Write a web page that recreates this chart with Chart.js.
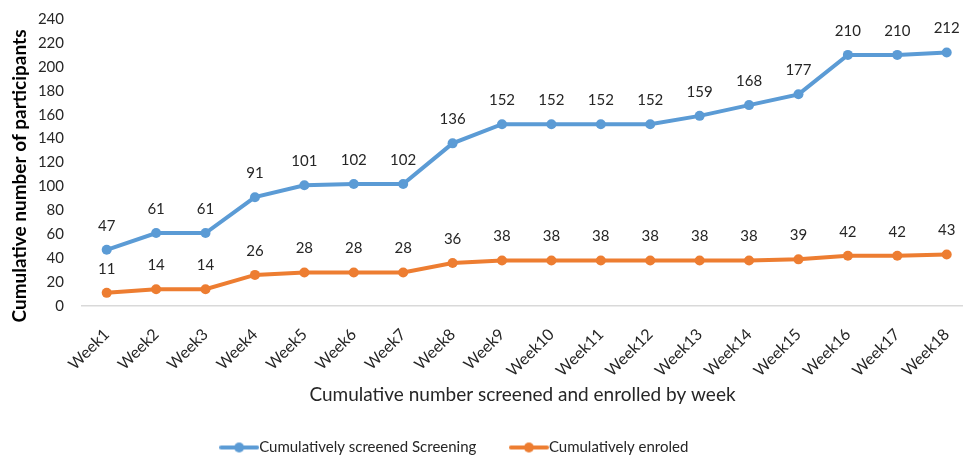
<!DOCTYPE html>
<html>
<head>
<meta charset="utf-8">
<script src="https://cdn.jsdelivr.net/npm/chart.js@4/dist/chart.umd.min.js"></script>
<style>
  html, body { margin: 0; padding: 0; background: #ffffff; }
  #wrap { width: 963px; height: 460px; position: relative; }
</style>
</head>
<body>
<div id="wrap"><canvas id="c" width="963" height="460"></canvas></div>
<script>
const categories = ["Week1","Week2","Week3","Week4","Week5","Week6","Week7","Week8","Week9","Week10","Week11","Week12","Week13","Week14","Week15","Week16","Week17","Week18"];
const screened = [47,61,61,91,101,102,102,136,152,152,152,152,159,168,177,210,210,212];
const enrolled = [11,14,14,26,28,28,28,36,38,38,38,38,38,38,39,42,42,43];
const yTicks = [0,20,40,60,80,100,120,140,160,180,200,220,240];
const seriesNames = ["Cumulatively screened Screening", "Cumulatively enroled"];
const xTitle = "Cumulative number screened and enrolled by week";
const yTitle = "Cumulative number of participants";

const BLUE = "#5b9bd5";
const ORANGE = "#ed7d31";
const TEXT = "#262626";
const FONT = "Lato, 'Open Sans', sans-serif";

function makeIcon(color) {
  const c = document.createElement("canvas");
  c.width = 40; c.height = 12;
  const g = c.getContext("2d");
  g.strokeStyle = color; g.lineWidth = 4; g.lineCap = "round";
  g.beginPath(); g.moveTo(2, 6); g.lineTo(38, 6); g.stroke();
  g.fillStyle = color;
  g.beginPath(); g.arc(20, 6, 5, 0, Math.PI * 2); g.fill();
  return c;
}
const icons = [makeIcon(BLUE), makeIcon(ORANGE)];

const toXY = arr => arr.map((v, i) => ({ x: i + 1, y: v }));

const dataLabels = {
  id: "dataLabels",
  afterDatasetsDraw(chart) {
    const ctx = chart.ctx;
    ctx.save();
    ctx.font = "15px " + FONT;
    ctx.fillStyle = TEXT;
    ctx.textAlign = "center";
    ctx.textBaseline = "middle";
    chart.data.datasets.forEach((ds, di) => {
      const meta = chart.getDatasetMeta(di);
      meta.data.forEach((pt, i) => {
        ctx.fillText(String(ds.data[i].y), pt.x, pt.y - 24);
      });
    });
    ctx.restore();
  }
};

const yTitlePlugin = {
  id: "yTitlePlugin",
  afterDraw(chart) {
    const ctx = chart.ctx;
    ctx.save();
    ctx.translate(20, 176);
    ctx.rotate(-Math.PI / 2);
    ctx.font = "bold 19px " + FONT;
    ctx.fillStyle = "#000000";
    ctx.textAlign = "center";
    ctx.textBaseline = "middle";
    ctx.fillText(yTitle, 0, 0);
    ctx.restore();
  }
};

const legendShift = {
  id: "legendShift",
  afterLayout(chart) {
    if (chart.legend) { chart.legend.left -= 24; chart.legend.right -= 24; }
  }
};

new Chart(document.getElementById("c"), {
  type: "line",
  data: {
    datasets: [
      { label: seriesNames[0], data: toXY(screened), borderColor: BLUE, backgroundColor: BLUE,
        borderWidth: 4, pointRadius: 5, pointHoverRadius: 5, pointBackgroundColor: BLUE, pointBorderWidth: 0, tension: 0 },
      { label: seriesNames[1], data: toXY(enrolled), borderColor: ORANGE, backgroundColor: ORANGE,
        borderWidth: 4, pointRadius: 5, pointHoverRadius: 5, pointBackgroundColor: ORANGE, pointBorderWidth: 0, tension: 0 }
    ]
  },
  options: {
    responsive: false,
    animation: false,
    layout: { autoPadding: false, padding: { left: 0, right: 0, top: 19, bottom: -5 } },
    scales: {
      x: {
        type: "linear",
        min: 0.5,
        max: 18.33,
        afterBuildTicks(scale) { scale.ticks = categories.map((_, i) => ({ value: i + 1 })); },
        afterFit(scale) { scale.height = 94; scale.paddingLeft = 0; scale.paddingRight = 0; },
        ticks: {
          callback: v => categories[v - 1] || "",
          minRotation: 45, maxRotation: 45,
          autoSkip: false,
          padding: 19,
          color: TEXT,
          font: { family: FONT, size: 16 }
        },
        grid: { display: false, drawTicks: false },
        border: { display: true, color: "#d9d9d9", width: 1.5 },
        title: { display: true, text: xTitle, color: TEXT, font: { family: FONT, size: 19 }, padding: { top: 0, bottom: -6 } }
      },
      y: {
        min: 0, max: 240,
        afterBuildTicks(scale) { scale.ticks = yTicks.map(v => ({ value: v })); },
        afterFit(scale) { scale.width = 82; scale.paddingTop = 0; scale.paddingBottom = 0; },
        ticks: { padding: 18, color: TEXT, font: { family: FONT, size: 15 } },
        grid: { display: false, drawTicks: false },
        border: { display: false }
      }
    },
    plugins: {
      tooltip: { enabled: false },
      legend: {
        position: "bottom",
        labels: {
          usePointStyle: true,
          pointStyleWidth: 25,
          padding: 40,
          color: TEXT,
          font: { family: FONT, size: 15 },
          generateLabels(chart) {
            const base = Chart.defaults.plugins.legend.labels.generateLabels(chart);
            return base.map((l, i) => Object.assign({}, l, { pointStyle: icons[i] }));
          }
        }
      }
    }
  },
  plugins: [dataLabels, yTitlePlugin, legendShift]
});
</script>
</body>
</html>
